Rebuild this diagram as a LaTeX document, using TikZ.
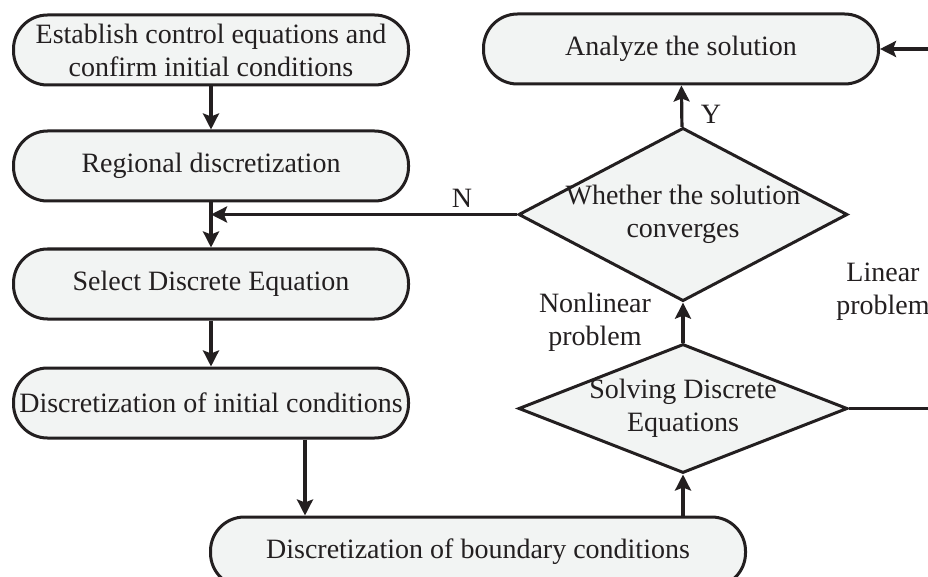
\documentclass[tikz,border=0pt]{standalone}
\usepackage{fontspec}
\setmainfont{Liberation Serif}
\usepackage{tikz}
\usetikzlibrary{arrows.meta,positioning,shapes.geometric,calc}
\definecolor{Ink}{HTML}{231F20}
\definecolor{Paper}{HTML}{F2F4F3}
\newcommand{\flowfont}{\fontsize{28}{33}\selectfont}

\begin{document}
\begin{tikzpicture}[x=1pt,y=-1pt,
  stadium/.style={draw=Ink,fill=Paper,line width=3pt,rounded corners=34pt,minimum width=395pt,minimum height=70pt,inner sep=0pt,align=center,text=Ink,font=\flowfont},
  decision/.style={diamond,draw=Ink,fill=Paper,line width=3pt,minimum width=329pt,inner xsep=-40pt,inner ysep=-20pt,align=center,text=Ink,font=\flowfont},
  flow/.style={draw=Ink,line width=3.2pt,-{Stealth[length=16pt,width=16pt,inset=3pt]}},
  tag/.style={text=Ink,align=center,font=\flowfont}
]
\useasboundingbox (0,0) rectangle (928,577);
\clip (0,0) rectangle (928,577);
\node[stadium] (setup) at (211,50) {Establish control equations and\\confirm initial conditions};
\node[stadium] (mesh) at (211,166) {Regional discretization};
\node[stadium] (scheme) at (211,284) {Select Discrete Equation};
\node[stadium] (initc) at (211,403) {Discretization of initial conditions};
\node[stadium,minimum width=535pt] (bndc) at (478,552) {Discretization of boundary conditions};
\node[stadium] (analyze) at (681,49) {Analyze the solution};
\node[decision,minimum height=163pt] (conv) at (683,214.5) {Whether the solution\\converges};
\node[decision,minimum height=129pt] (solve) at (683,408.5) {Solving Discrete\\Equations};
\coordinate (join) at (mesh.south |- conv.west);
\foreach \a/\b in {setup/mesh,mesh/scheme,scheme/initc,conv/analyze,solve/conv} {
  \draw[flow] (\a) -- (\b);
}
\draw[flow] ([xshift=94pt]initc.south) -- ([xshift=94pt]initc.south |- bndc.north);
\draw[flow] (bndc.north -| solve.south) -- (solve.south);
\draw[flow] (conv.west) -- (join);
\draw[flow] (solve.east) -- ++(130,0) |- (analyze.east);
\node[tag] (no) at (462,198) {N};
\node[tag] (yes) at (711,114) {Y};
\node[tag] (nonlin) at (595,322) {Nonlinear\\problem};
\node[tag] (lin) at (883,292) {Linear\\problem};
\end{tikzpicture}
\end{document}
